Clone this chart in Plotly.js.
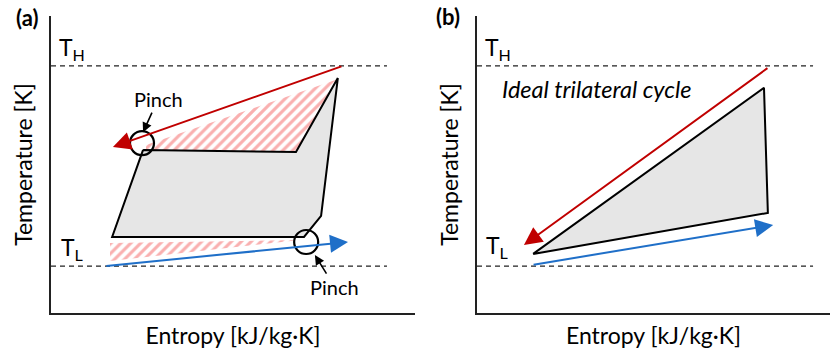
<!DOCTYPE html>
<html><head><meta charset="utf-8">
<script src="https://cdn.plot.ly/plotly-3.0.1.min.js"></script>
<style>html,body{margin:0;padding:0;background:#fff}#c{width:830px;height:354px}</style>
</head><body><div id="c"></div>
<script>
// Panel (a): arbitrary entropy (x) / temperature (y) units, 0..100
var TH = 83.2, TL = 15.8;
var a_dashX = [0, 92.3];
var a_cycleX = [25.3, 67.3, 78.8, 74.2, 69.5, 16.8, 25.3];
var a_cycleY = [54.9, 54.2, 79.1, 32.7, 25.6, 25.6, 54.9];
var a_hotX = [80.2, 17.0];   // heat source, tail -> tip
var a_hotY = [83.2, 55.9];
var a_coldX = [14.8, 81.6];  // heat sink, tail -> tip
var a_coldY = [15.8, 23.9];
var a_hatchUpX = [26.1, 78.3, 67.3, 26.1, 26.1];
var a_hatchUpY = [56.6, 78.5, 54.5, 54.5, 56.6];
var a_hatchLoX = [16.2, 68.4, 16.2, 16.2];
var a_hatchLoY = [23.6, 24.6, 17.5, 23.6];
var a_pinchX = [25.0, 70.1];
var a_pinchY = [57.2, 23.9];
var a_pinchTipX = [25.3, 72.5];
var a_pinchTipY = [60.9, 19.5];

// Panel (b)
var b_dashX = [0, 95.2];
var b_cycleX = [15.9, 81.3, 82.4, 15.9];
var b_cycleY = [19.9, 75.8, 33.7, 19.9];
var b_hotX = [82.7, 13.3];
var b_hotY = [82.8, 22.9];
var b_coldX = [15.6, 83.9];
var b_coldY = [16.2, 29.6];

var RED = '#c00000', BLUE = '#1f6fc8';
var FONT = 'Lato, "Open Sans", sans-serif';

function dash(xs, xa, ya, yv) {
  return {x: xs, y: [yv, yv], xaxis: xa, yaxis: ya, mode: 'lines',
    line: {color: '#222', width: 1.2, dash: '5px,4px'}, hoverinfo: 'skip'};
}
var hatchPat = {shape: '/', fgcolor: 'rgba(248,155,155,0.8)', bgcolor: 'rgba(255,255,255,0)', size: 7, solidity: 0.45};

var data = [
  dash(a_dashX, 'x', 'y', TH), dash(a_dashX, 'x', 'y', TL),
  {x: a_hatchUpX, y: a_hatchUpY, xaxis: 'x', yaxis: 'y', mode: 'lines', fill: 'toself',
   line: {width: 0, color: 'rgba(0,0,0,0)'}, fillcolor: 'rgba(255,255,255,0)', fillpattern: hatchPat},
  {x: a_hatchLoX, y: a_hatchLoY, xaxis: 'x', yaxis: 'y', mode: 'lines', fill: 'toself',
   line: {width: 0, color: 'rgba(0,0,0,0)'}, fillcolor: 'rgba(255,255,255,0)', fillpattern: hatchPat},
  {x: a_cycleX, y: a_cycleY, xaxis: 'x', yaxis: 'y', mode: 'lines', fill: 'toself',
   fillcolor: '#e6e6e6', line: {color: '#000', width: 2}},
  dash(b_dashX, 'x2', 'y2', TH), dash(b_dashX, 'x2', 'y2', TL),
  {x: b_cycleX, y: b_cycleY, xaxis: 'x2', yaxis: 'y2', mode: 'lines', fill: 'toself',
   fillcolor: '#e6e6e6', line: {color: '#000', width: 2}}
];

function arrow(xs, ys, xr, yr, col) {
  return {x: xs[1], y: ys[1], ax: xs[0], ay: ys[0], xref: xr, yref: yr, axref: xr, ayref: yr,
    text: '', showarrow: true, arrowhead: 2, arrowsize: 1.8, arrowwidth: 2, arrowcolor: col, standoff: 0};
}
function txt(x, y, xr, yr, t, size, extra) {
  var o = {x: x, y: y, xref: xr, yref: yr, text: t, showarrow: false,
    font: {family: FONT, size: size, color: '#000'}};
  for (var k in extra) o[k] = extra[k];
  return o;
}
function pinch(i, axp, ayp) {
  return {x: a_pinchTipX[i], y: a_pinchTipY[i], xref: 'x', yref: 'y', ax: axp, ay: ayp,
    text: 'Pinch', showarrow: true, arrowhead: 2, arrowsize: 1.2, arrowwidth: 1.6,
    arrowcolor: '#000', standoff: 0, font: {family: FONT, size: 20, color: '#000'}};
}

var annotations = [
  arrow(a_hotX, a_hotY, 'x', 'y', RED),
  arrow(a_coldX, a_coldY, 'x', 'y', BLUE),
  arrow(b_hotX, b_hotY, 'x2', 'y2', RED),
  arrow(b_coldX, b_coldY, 'x2', 'y2', BLUE),
  pinch(0, 15, -33),
  pinch(1, 20, 32),
  txt(27/830, 1 - 18/354, 'paper', 'paper', '<b>(a)</b>', 22, {xanchor: 'center', yanchor: 'middle'}),
  txt(448/830, 1 - 16/354, 'paper', 'paper', '<b>(b)</b>', 22, {xanchor: 'center', yanchor: 'middle'}),
  txt(5.8, TH + 6, 'x', 'y', 'T<sub>H</sub>', 23, {xanchor: 'center', yanchor: 'middle'}),
  txt(6.0, TL + 6, 'x', 'y', 'T<sub>L</sub>', 23, {xanchor: 'center', yanchor: 'middle'}),
  txt(5.9, TH + 6, 'x2', 'y2', 'T<sub>H</sub>', 23, {xanchor: 'center', yanchor: 'middle'}),
  txt(5.9, TL + 6.7, 'x2', 'y2', 'T<sub>L</sub>', 23, {xanchor: 'center', yanchor: 'middle'}),
  txt(6.5, 75.4, 'x2', 'y2', '<i>Ideal trilateral cycle</i>', 23.5, {xanchor: 'left', yanchor: 'middle'})
];

var shapes = [];
for (var i = 0; i < a_pinchX.length; i++) {
  shapes.push({type: 'circle', xref: 'x', yref: 'y', xsizemode: 'pixel', ysizemode: 'pixel',
    xanchor: a_pinchX[i], yanchor: a_pinchY[i], x0: -12, x1: 12, y0: -12, y1: 12,
    line: {color: '#000', width: 2.2}, fillcolor: 'rgba(0,0,0,0)', layer: 'above'});
}

function ax(dom, title, standoff) {
  return {domain: dom, range: [0, 100], showgrid: false, zeroline: false, showticklabels: false,
    ticks: '', showline: true, linecolor: '#222', linewidth: 2, fixedrange: true,
    title: {text: title, font: {family: FONT, size: 23, color: '#000'}, standoff: standoff}};
}
var layout = {
  width: 830, height: 354, margin: {l: 0, r: 0, t: 0, b: 0},
  paper_bgcolor: '#fff', plot_bgcolor: 'rgba(0,0,0,0)', showlegend: false,
  xaxis: Object.assign(ax([51/830, 415/830], 'Entropy [kJ/kg·K]', 14), {anchor: 'y'}),
  yaxis: Object.assign(ax([41/354, 338/354], 'Temperature [K]', 10), {anchor: 'x'}),
  xaxis2: Object.assign(ax([477/830, 1], 'Entropy [kJ/kg·K]', 14), {anchor: 'y2'}),
  yaxis2: Object.assign(ax([41/354, 338/354], 'Temperature [K]', 10), {anchor: 'x2'}),
  annotations: annotations, shapes: shapes
};
Plotly.newPlot('c', data, layout, {staticPlot: true});
</script></body></html>
